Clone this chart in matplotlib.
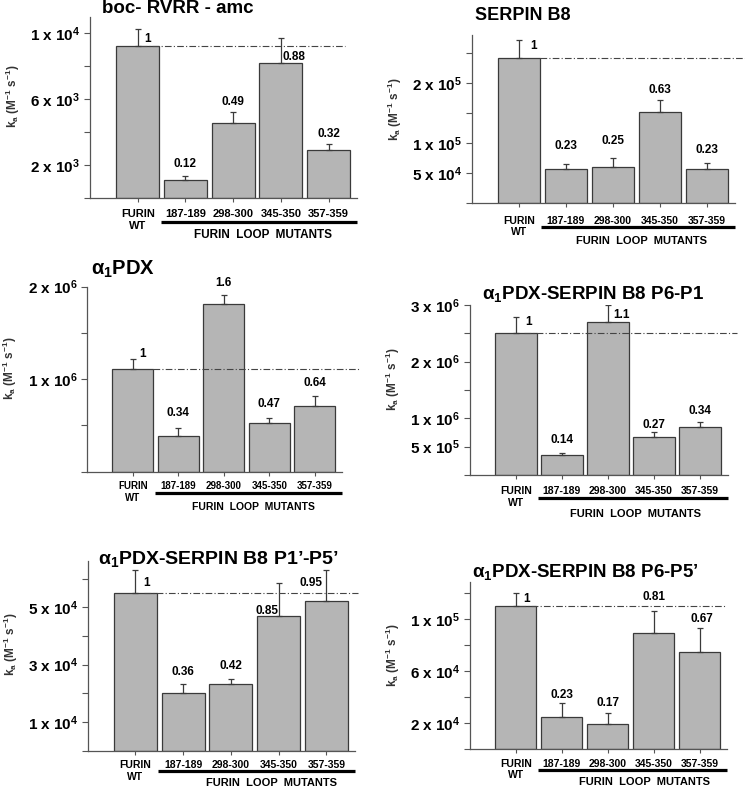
import matplotlib
matplotlib.use('Agg')
import matplotlib.pyplot as plt
from matplotlib import transforms

plt.rcParams['font.family'] = ['Liberation Sans', 'DejaVu Sans']
plt.rcParams['font.weight'] = 'bold'
plt.rcParams['mathtext.fontset'] = 'custom'
plt.rcParams['mathtext.rm'] = 'Liberation Sans:bold'
plt.rcParams['mathtext.bf'] = 'Liberation Sans:bold'
plt.rcParams['mathtext.it'] = 'Liberation Sans:bold'
plt.rcParams['mathtext.default'] = 'bf'

# ---- data ----
groups = ['FURIN\nWT', '187-189', '298-300', '345-350', '357-359']

titles = ['boc- RVRR - amc', 'SERPIN B8', 'α$_1$PDX',
          'α$_1$PDX-SERPIN B8 P6-P1', 'α$_1$PDX-SERPIN B8 P1’-P5’',
          'α$_1$PDX-SERPIN B8 P6-P5’']

ka_rvrr = [9230, 1090, 4530, 8160, 2910]
err_rvrr = [990, 240, 660, 1560, 340]
ratio_rvrr = ['1', '0.12', '0.49', '0.88', '0.32']

ka_serpin = [2.43e5, 5.67e4, 6.1e4, 1.52e5, 5.67e4]
err_serpin = [3.0e4, 0.93e4, 1.4e4, 2.0e4, 1.03e4]
ratio_serpin = ['1', '0.23', '0.25', '0.63', '0.23']

ka_pdx = [1.106e6, 3.89e5, 1.808e6, 5.23e5, 7.13e5]
err_pdx = [1.08e5, 0.8e5, 1.0e5, 0.57e5, 1.04e5]
ratio_pdx = ['1', '0.34', '1.6', '0.47', '0.64']

ka_p6p1 = [2.5e6, 3.53e5, 2.69e6, 6.65e5, 8.41e5]
err_p6p1 = [2.9e5, 0.29e5, 3.0e5, 0.93e5, 0.99e5]
ratio_p6p1 = ['1', '0.14', '1.1', '0.27', '0.34']

ka_p1p5 = [5.48e4, 2.0e4, 2.31e4, 4.70e4, 5.21e4]
err_p1p5 = [0.82e4, 0.31e4, 0.18e4, 1.13e4, 1.09e4]
ratio_p1p5 = ['1', '0.36', '0.42', '0.85', '0.95']

ka_p6p5 = [1.098e5, 2.5e4, 1.94e4, 8.89e4, 7.43e4]
err_p6p5 = [1.02e4, 1.02e4, 0.82e4, 1.71e4, 1.84e4]
ratio_p6p5 = ['1', '0.23', '0.17', '0.81', '0.67']

yticks = [
    [0, 2000, 4000, 6000, 8000, 10000],
    [0, 5e4, 1e5, 1.5e5, 2e5, 2.5e5],
    [0, 5e5, 1e6, 1.5e6, 2e6],
    [0, 5e5, 1e6, 1.5e6, 2e6, 2.5e6, 3e6],
    [0, 1e4, 2e4, 3e4, 4e4, 5e4, 6e4],
    [0, 2e4, 4e4, 6e4, 8e4, 1e5, 1.2e5],
]
ytick_labels = [
    ['', '2 x 10$^{3}$', '', '6 x 10$^{3}$', '', '1 x 10$^{4}$'],
    ['', '5 x 10$^{4}$', '1 x 10$^{5}$', '', '2 x 10$^{5}$', ''],
    ['', '', '1 x 10$^{6}$', '', '2 x 10$^{6}$'],
    ['', '5 x 10$^{5}$', '1 x 10$^{6}$', '', '2 x 10$^{6}$', '', '3 x 10$^{6}$'],
    ['', '1 x 10$^{4}$', '', '3 x 10$^{4}$', '', '5 x 10$^{4}$', ''],
    ['', '2 x 10$^{4}$', '', '6 x 10$^{4}$', '', '1 x 10$^{5}$', ''],
]
ytop = [11000, 2.8e5, 2e6, 3e6, 6.6e4, 1.28e5]

series = [(ka_rvrr, err_rvrr, ratio_rvrr), (ka_serpin, err_serpin, ratio_serpin),
          (ka_pdx, err_pdx, ratio_pdx), (ka_p6p1, err_p6p1, ratio_p6p1),
          (ka_p1p5, err_p1p5, ratio_p1p5), (ka_p6p5, err_p6p5, ratio_p6p5)]

# ---- layout (pixels): axis left, axis bottom, px per bar slot, axis top ----
W, H = 745, 788
frames = [(90, 198, 47.7, 16.5), (471.7, 203.3, 47.1, 35.3),
          (87.3, 471.7, 45.5, 286.5), (469.7, 475, 46.1, 304.9),
          (87.7, 750.7, 47.75, 561.3), (469.7, 749.3, 46, 582.3)]
title_off = [(12, 8.5), (3, 20), (4, 17.5), (12, 11), (10, 2), (2, 10)]
title_size = [13.5, 13, 14.5, 13.5, 14, 13.5]
ref_span = [(0.05, 4.35), (0.45, 4.8), (0.45, 5.0), (0.17, 4.8), (0.17, 4.67), (0.07, 4.55)]
xtick_size = [8, 7.5, 7, 7.5, 7.5, 7.5]
xtick_pad = [5.2, 5.8, 4.0, 5.0, 3.8, 3.8]
under_off = [23.5, 24, 21.7, 23.3, 20.5, 20.5]
caption_off = [37.5, 37.4, 35, 39, 32.5, 32.5]
caption_x = [2.62, 2.6, 2.65, 2.6, 2.85, 2.8]
# value label placement: anchor (bar top / error top), dx px, dy px
lab_pos = [
    [('bar', 10, 6.5), ('err', 0, 12), ('err', 0, 10), ('bar', 13, 6.6), ('err', 0, 10)],
    [('bar', 15, 12), ('err', 0, 18), ('err', 0, 17), ('err', 0, 10), ('err', 0, 13)],
    [('err', 10, 5), ('err', 0, 15.6), ('err', 0, 11.7), ('err', 0, 14), ('err', 0, 12.7)],
    [('bar', 13, 11.6), ('err', 0, 13), ('bar', 14, 7), ('err', 0, 7), ('err', 0, 11)],
    [('bar', 11, 10), ('err', 0, 12.6), ('err', 0, 13.6), ('bar', -12, 5), ('bar', -15, 18)],
    [('bar', 11, 7), ('err', 0, 8), ('err', 0, 10), ('err', 0, 14), ('err', 2, 9)],
]

bar_col = '#b5b5b5'
edge_col = '#3a3a3a'
axis_col = '#555555'

fig = plt.figure(figsize=(W / 100, H / 100), dpi=100)
xs = list(range(len(groups)))

for i, (ka, err, ratio) in enumerate(series):
    left, bottom, slot, top = frames[i]
    width = 5.6 * slot
    height = bottom - top
    ax = fig.add_axes([left / W, 1 - bottom / H, width / W, height / H])

    ax.bar(xs, ka, width=0.9, color=bar_col, edgecolor=edge_col, linewidth=0.9, zorder=2)
    ax.errorbar(xs, ka, yerr=[[0] * len(ka), err], fmt='none', ecolor=edge_col,
                elinewidth=0.9, capsize=2, capthick=0.9, zorder=3)
    ax.plot(ref_span[i], [ka[0], ka[0]], color='#444444', lw=0.8,
            linestyle=(0, (6, 2, 1, 2)), clip_on=False, zorder=4)

    for j, (anchor, dx, dy) in enumerate(lab_pos[i]):
        yv = ka[j] + err[j] if anchor == 'err' else ka[j]
        ax.annotate(ratio[j], xy=(j, yv), xytext=(dx, dy), textcoords='offset pixels',
                    ha='center', va='center', fontsize=8.5, fontweight='bold')

    ax.set_xlim(-1, 4.6)
    ax.set_ylim(0, ytop[i])
    ax.set_yticks(yticks[i])
    ax.set_yticklabels(ytick_labels[i], fontsize=11, fontweight='bold')
    ax.set_xticks(xs)
    ax.set_xticklabels(groups, fontsize=xtick_size[i], fontweight='bold', linespacing=1.2)

    for s in ['top', 'right']:
        ax.spines[s].set_visible(False)
    for s in ['left', 'bottom']:
        ax.spines[s].set_color(axis_col)
        ax.spines[s].set_linewidth(0.9)
    ax.tick_params(axis='y', direction='out', length=4, width=0.8, color=axis_col, pad=3)
    ax.tick_params(axis='x', direction='out', length=3, width=0.8, color=axis_col,
                   pad=xtick_pad[i])

    ax.set_ylabel('k$_{a}$ (M$^{-1}$ s$^{-1}$)', fontsize=8.5, fontweight='bold',
                  color='#333333', va='center')
    ax.yaxis.set_label_coords(-77 / width, 0.56)

    # mutant underline and group caption below the axis
    tr = transforms.blended_transform_factory(ax.transData, ax.transAxes)
    ax.plot([0.48, 4.6], [-under_off[i] / height] * 2, transform=tr, color='black',
            lw=2.3, clip_on=False, solid_capstyle='butt')
    ax.text(caption_x[i], -caption_off[i] / height, 'FURIN  LOOP  MUTANTS', transform=tr,
            ha='center', va='center', fontsize=xtick_size[i] + 0.5, fontweight='bold')

    dx, dy = title_off[i]
    ax.annotate(titles[i], xy=(0, 1), xycoords='axes fraction', xytext=(dx, dy),
                textcoords='offset pixels', ha='left', va='center',
                fontsize=title_size[i], fontweight='bold', annotation_clip=False)

fig.savefig('out.png', dpi=100)
